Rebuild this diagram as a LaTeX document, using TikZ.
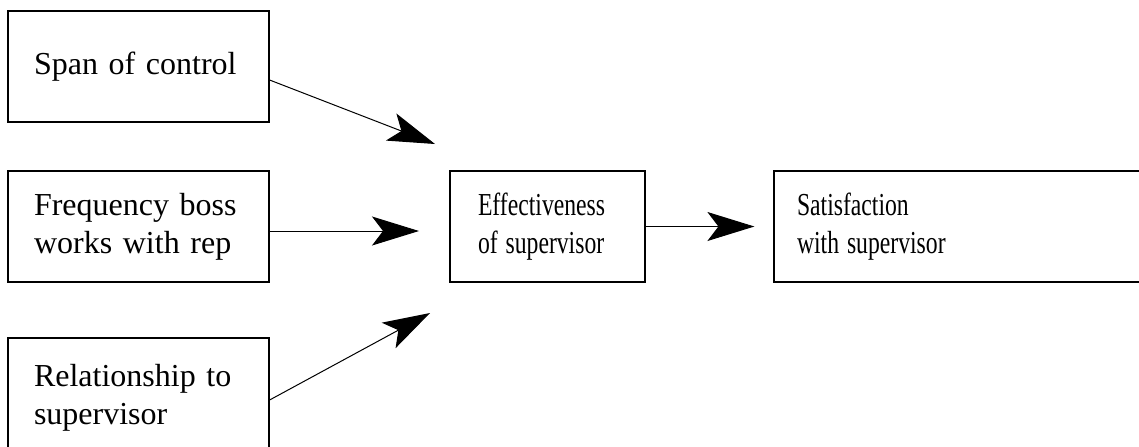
\documentclass[tikz,border=0pt]{standalone}
\usepackage{graphicx}
\usepackage{fontspec}
\setmainfont{Liberation Serif}
\usetikzlibrary{arrows.meta}
\newcommand{\narrowtext}[1]{\scalebox{0.74}[1]{#1}}
\tikzstyle{factor}=[rectangle, draw, line width=0.6pt, minimum height=55.5pt, inner ysep=0pt, align=left, font=\fontsize{16}{19}\selectfont]
\tikzstyle{link}=[line width=0.5pt, -{Stealth[length=23.5pt, width=14.5pt, inset=5.5pt]}]

\begin{document}
\begin{tikzpicture}[x=0.5pt, y=-0.5pt]
                    \useasboundingbox (0,0) rectangle (1139,446);
                    \clip (0,0) rectangle (1139,446);
                    \node[factor, inner xsep=13pt, text width=104.5pt] (11) at (138.5, 66.5) {Span of control};
                    \node[factor, inner xsep=13pt, text width=104.5pt] (12) at (138.5, 226.5) {Frequency boss\\works with rep};
                    \node[factor, inner xsep=13pt, text width=104.5pt, minimum height=60pt] (13) at (138.5, 398) {Relationship to\\supervisor};
                    \node[factor, inner xsep=14pt, text width=69.5pt] (21) at (547.5, 226.5) {\narrowtext{Effectiveness}\\\narrowtext{of supervisor}};
                    \node[factor, inner xsep=11.5pt, text width=177pt] (31) at (974, 226.5) {\narrowtext{Satisfaction}\\\narrowtext{with supervisor}};
                    \coordinate (14) at (435, 144);
                    \coordinate (15) at (419, 231);
                    \coordinate (16) at (430, 313);
                    \draw[link] ([yshift=-6.75pt]11.east)--(14);
                    \draw[link] ([yshift=-2.25pt]12.east)--(15);
                    \draw[link] ([yshift=-1pt]13.east)--(16);
                    \draw[link, shorten >=9.5pt] (21.east)--(31.west);
                \end{tikzpicture}
\end{document}
